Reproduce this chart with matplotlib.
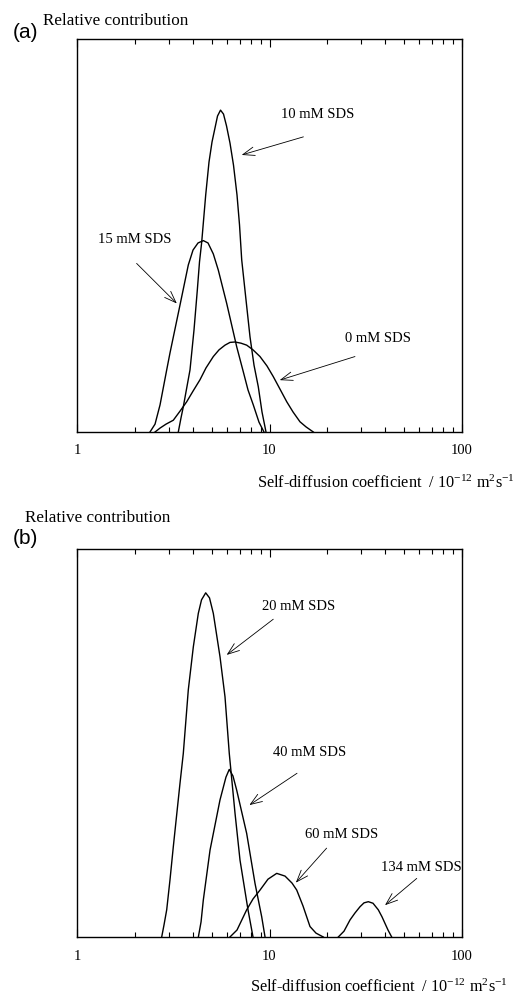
import matplotlib
matplotlib.use("Agg")
import matplotlib.pyplot as plt
from matplotlib.ticker import LogLocator, NullFormatter

plt.rcParams["font.family"] = ["Liberation Serif", "DejaVu Serif"]
plt.rcParams["mathtext.fontset"] = "custom"
plt.rcParams["mathtext.rm"] = "Liberation Serif"
plt.rcParams["mathtext.it"] = "Liberation Serif:italic"
plt.rcParams["mathtext.bf"] = "Liberation Serif:bold"

# panel (a): self-diffusion coefficient (1e-12 m2/s) vs relative contribution
d_10mM = [3.359, 3.470, 3.566, 3.683, 3.864, 4.054, 4.217, 4.329, 4.444,
          4.662, 4.850, 5.028, 5.212, 5.370, 5.566, 5.768, 5.979, 6.235,
          6.501, 6.780, 6.986, 7.172, 7.551, 7.921, 8.309, 8.746, 9.142, 9.590]
rc_10mM = [0.0, 0.036, 0.064, 0.102, 0.158, 0.260, 0.361, 0.433, 0.483,
           0.603, 0.687, 0.738, 0.774, 0.804, 0.819, 0.809, 0.779, 0.735,
           0.679, 0.603, 0.527, 0.438, 0.336, 0.242, 0.170, 0.115, 0.051, 0.0]

d_15mM = [2.394, 2.543, 2.700, 2.924, 3.041, 3.428, 3.786, 4.006, 4.253,
          4.532, 4.793, 5.107, 5.420, 5.994, 6.754, 7.311, 7.733, 8.237,
          8.820, 9.362]
rc_15mM = [0.0, 0.020, 0.069, 0.158, 0.201, 0.323, 0.425, 0.463, 0.481,
           0.487, 0.481, 0.453, 0.412, 0.327, 0.217, 0.153, 0.107, 0.069,
           0.025, 0.0]

d_0mM = [2.543, 2.700, 2.900, 3.165, 3.428, 3.715, 4.006, 4.355, 4.678,
         5.107, 5.467, 5.873, 6.235, 6.620, 7.112, 7.613, 8.210, 8.925,
         9.705, 10.46, 11.34, 12.29, 13.25, 14.40, 15.48, 16.89]
rc_0mM = [0.0, 0.010, 0.020, 0.030, 0.053, 0.077, 0.104, 0.133, 0.163,
          0.192, 0.209, 0.221, 0.228, 0.229, 0.226, 0.221, 0.209, 0.192,
          0.168, 0.141, 0.109, 0.077, 0.051, 0.026, 0.013, 0.0]

# panel (b)
d_20mM = [2.754, 2.831, 2.924, 3.041, 3.165, 3.428, 3.566, 3.715, 3.786,
          4.021, 4.267, 4.435, 4.662, 4.879, 5.107, 5.533, 5.873, 6.181,
          6.620, 7.028, 7.372, 7.733, 8.210]
rc_20mM = [0.0, 0.031, 0.070, 0.147, 0.233, 0.396, 0.473, 0.585, 0.637,
           0.748, 0.834, 0.869, 0.887, 0.874, 0.834, 0.722, 0.619, 0.473,
           0.319, 0.198, 0.134, 0.070, 0.0]

d_40mM = [4.27, 4.41, 4.53, 4.91, 5.53, 5.94, 6.18, 6.46, 6.75, 7.61, 8.41,
          9.11, 9.48]
rc_40mM = [0.0, 0.039, 0.095, 0.224, 0.353, 0.412, 0.432, 0.415, 0.379,
           0.267, 0.138, 0.052, 0.0]

d_60mM = [6.23, 6.78, 7.61, 8.21, 8.93, 9.82, 10.90, 12.04, 13.09, 13.85,
          14.93, 16.23, 17.44, 19.03]
rc_60mM = [0.0, 0.018, 0.070, 0.098, 0.121, 0.149, 0.164, 0.157, 0.139,
           0.121, 0.080, 0.027, 0.010, 0.0]

d_134mM = [22.77, 24.38, 26.20, 27.81, 29.52, 30.97, 32.61, 34.49, 36.75,
           38.41, 39.81, 41.27, 43.13]
rc_134mM = [0.0, 0.015, 0.044, 0.062, 0.078, 0.088, 0.091, 0.087, 0.070,
            0.052, 0.035, 0.018, 0.0]

tick_values = [1, 10, 100]
tick_labels = ["1", "10", "100"]

W, H = 516, 994


def setup_axes(ax):
    ax.set_xscale("log")
    ax.set_xlim(1, 100)
    ax.set_ylim(0, 1)
    ax.set_xticks(tick_values)
    ax.set_xticklabels(tick_labels, fontsize=10.5)
    ax.xaxis.set_minor_locator(LogLocator(base=10, subs=range(2, 10)))
    ax.xaxis.set_minor_formatter(NullFormatter())
    ax.tick_params(axis="x", which="both", direction="in", top=True,
                   width=0.8, pad=9)
    ax.tick_params(axis="x", which="major", length=6)
    ax.tick_params(axis="x", which="minor", length=3.5)
    ax.set_yticks([])
    for spine in ax.spines.values():
        spine.set_linewidth(1.0)


def arrow(ax, text, xytext, xy, tip):
    ax.text(xytext[0], xytext[1], text, fontsize=10.5, ha="center",
            va="center")
    ax.annotate("", xy=tip, xytext=xy,
                arrowprops=dict(arrowstyle="->,head_length=0.6,head_width=0.22",
                                lw=0.6, color="black", mutation_scale=14,
                                shrinkA=0, shrinkB=0))


def frame_text(fig, px, py, s, **kw):
    fig.text(px / W, 1 - py / H, s, **kw)


fig = plt.figure(figsize=(W / 100, H / 100), dpi=100)

ax1 = fig.add_axes([77 / W, 1 - 432 / H, 385 / W, 393 / H])
setup_axes(ax1)
ax1.plot(d_10mM, rc_10mM, color="black", lw=1.0)
ax1.plot(d_15mM, rc_15mM, color="black", lw=1.0)
ax1.plot(d_0mM, rc_0mM, color="black", lw=1.0)
arrow(ax1, "10 mM SDS", (17.9, 0.807), (15.0, 0.751), (7.17, 0.705))
arrow(ax1, "15 mM SDS", (2.0, 0.489), (2.04, 0.429), (3.30, 0.327))
arrow(ax1, "0 mM SDS", (36.7, 0.238), (27.8, 0.192), (11.3, 0.132))

ax2 = fig.add_axes([77 / W, 1 - 937 / H, 385 / W, 388 / H])
setup_axes(ax2)
ax2.plot(d_20mM, rc_20mM, color="black", lw=1.0)
ax2.plot(d_40mM, rc_40mM, color="black", lw=1.0)
ax2.plot(d_60mM, rc_60mM, color="black", lw=1.0)
ax2.plot(d_134mM, rc_134mM, color="black", lw=1.0)
arrow(ax2, "20 mM SDS", (14.1, 0.851), (10.46, 0.819), (5.99, 0.727))
arrow(ax2, "40 mM SDS", (16.2, 0.475), (13.9, 0.422), (7.86, 0.340))
arrow(ax2, "60 mM SDS", (23.7, 0.263), (19.8, 0.229), (13.7, 0.140))
arrow(ax2, "134 mM SDS", (61.7, 0.180), (58.2, 0.151), (39.8, 0.082))

xlabel = "Self-diffusion coefficient  / 10$^{-12}$ m$^{2}$s$^{-1}$"
frame_text(fig, 43, 21, "Relative contribution", fontsize=12.3, va="center")
frame_text(fig, 13, 33, "(a)", fontsize=15, va="center",
           family=["Liberation Sans", "DejaVu Sans"])
frame_text(fig, 257, 483, xlabel, fontsize=11.7, va="center")

frame_text(fig, 25, 518, "Relative contribution", fontsize=12.3, va="center")
frame_text(fig, 13, 538, "(b)", fontsize=15, va="center",
           family=["Liberation Sans", "DejaVu Sans"])
frame_text(fig, 250, 987, xlabel, fontsize=11.7, va="center")

fig.savefig("out.png", dpi=100)
